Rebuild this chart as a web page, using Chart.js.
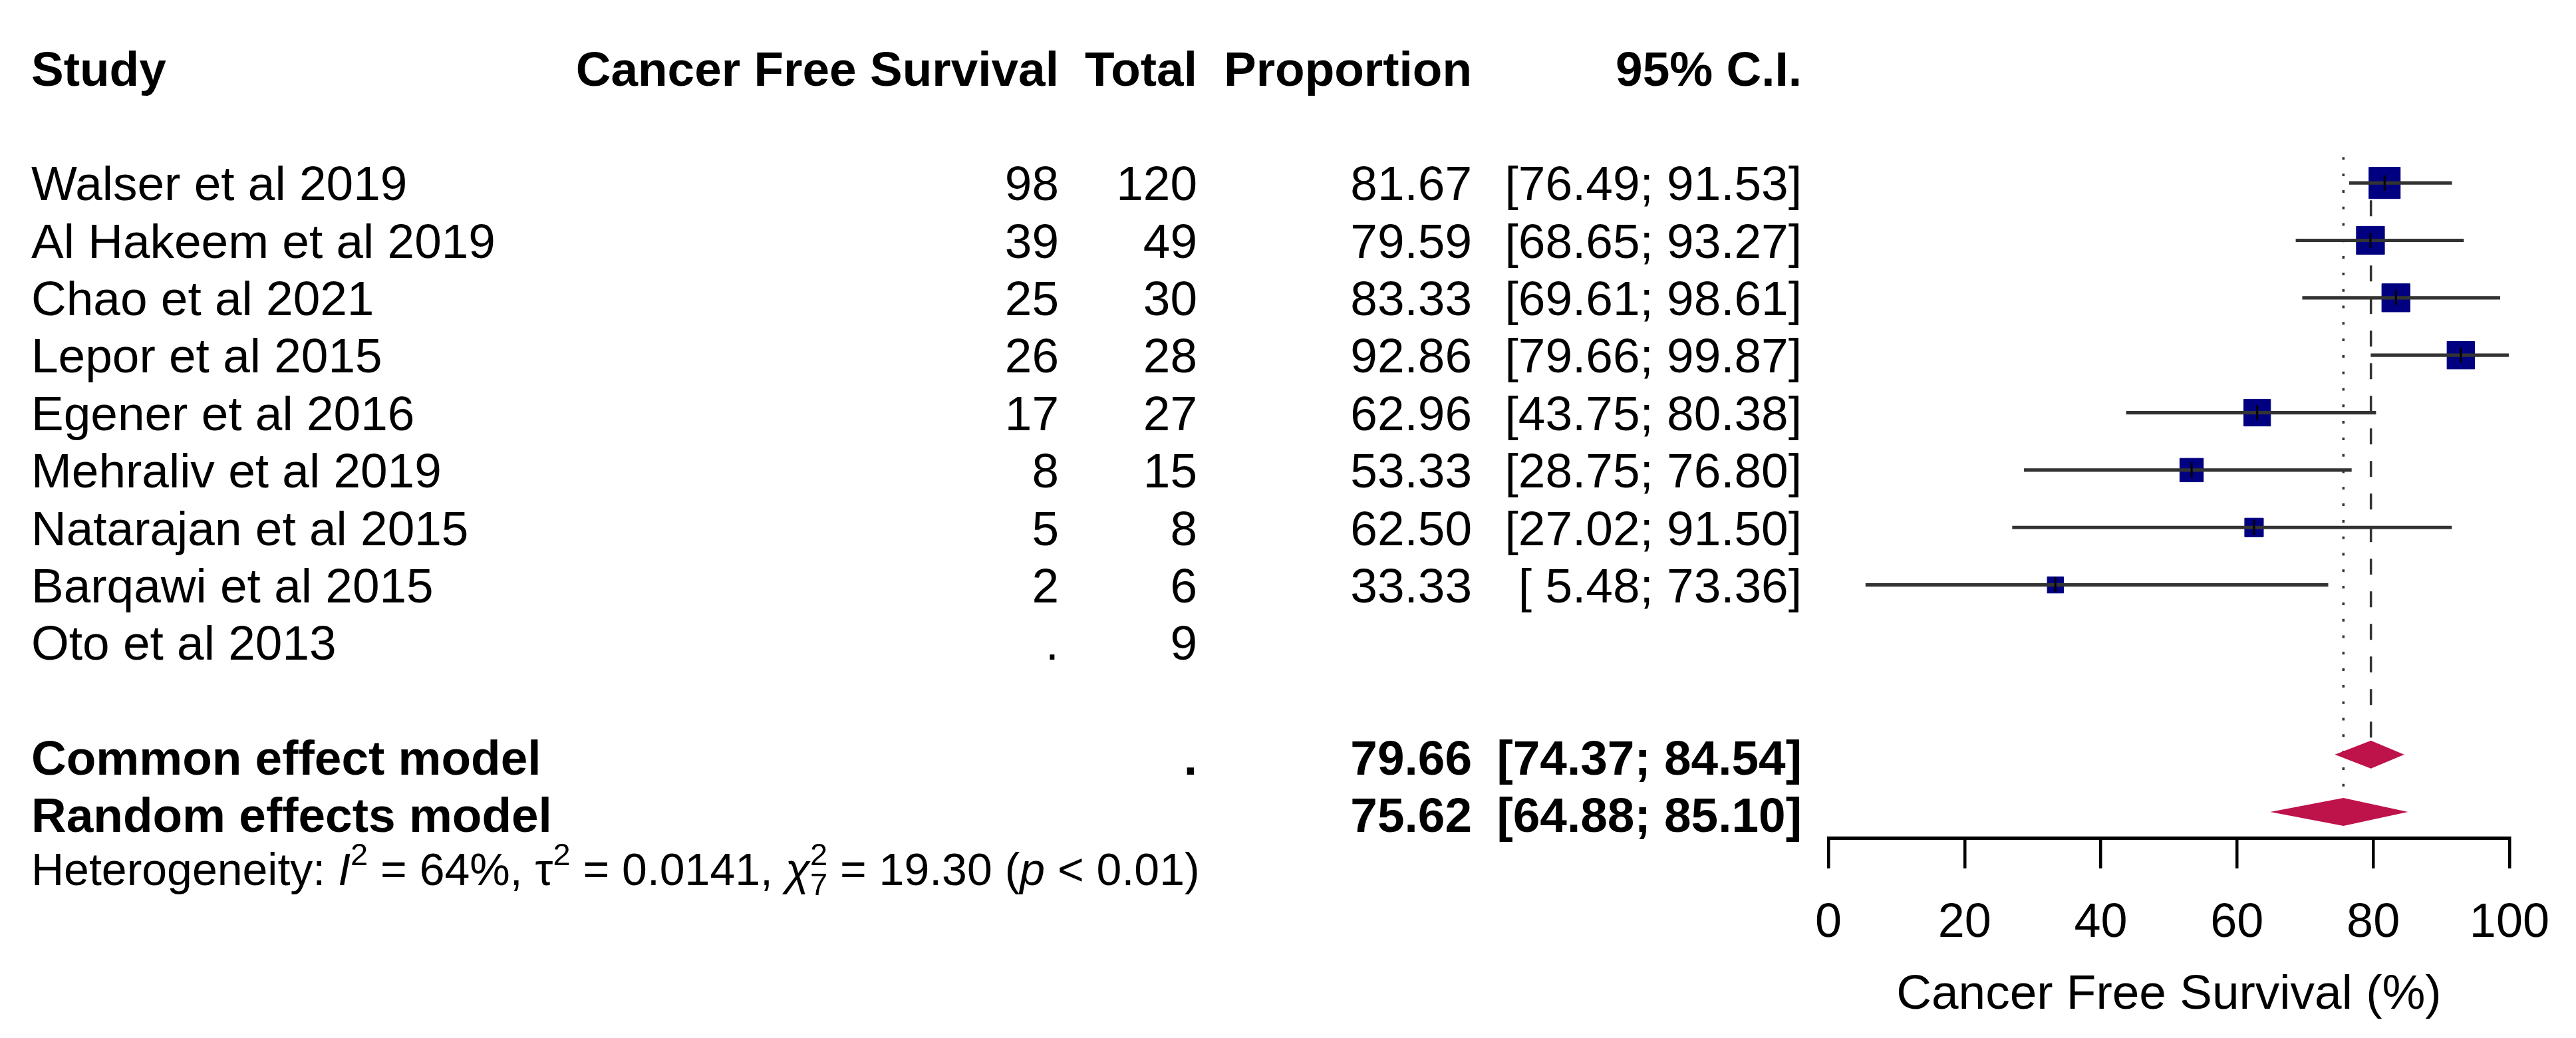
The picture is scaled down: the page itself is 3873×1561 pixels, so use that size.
<!DOCTYPE html>
<html>
<head>
<meta charset="utf-8">
<script src="https://cdn.jsdelivr.net/npm/chart.js@4/dist/chart.umd.min.js"></script>
<style>
  html, body { margin: 0; padding: 0; background: #fff; }
  #wrap { width: 3873px; height: 1561px; position: relative; }
</style>
</head>
<body>
<div id="wrap"><canvas id="forest"></canvas></div>
<script>
// study data
const studies = ['Walser et al 2019', 'Al Hakeem et al 2019', 'Chao et al 2021', 'Lepor et al 2015',
    'Egener et al 2016', 'Mehraliv et al 2019', 'Natarajan et al 2015', 'Barqawi et al 2015', 'Oto et al 2013'];
const events = [98, 39, 25, 26, 17, 8, 5, 2, null];
const totals = [120, 49, 30, 28, 27, 15, 8, 6, 9];
const proportions = [81.67, 79.59, 83.33, 92.86, 62.96, 53.33, 62.50, 33.33, null];
const ciLower = [76.49, 68.65, 69.61, 79.66, 43.75, 28.75, 27.02, 5.48, null];
const ciUpper = [91.53, 93.27, 98.61, 99.87, 80.38, 76.80, 91.50, 73.36, null];
const weights = [14.9, 12.0, 12.0, 11.5, 10.9, 8.4, 5.3, 4.0, 0];

// pooled estimates
const pooledLabels = ['Common effect model', 'Random effects model'];
const pooledEst = [79.66, 75.62];
const pooledLower = [74.37, 64.88];
const pooledUpper = [84.54, 85.10];

// heterogeneity
const hetI2 = 64;
const hetTau2 = '0.0141';
const hetQ = '19.30';
const hetDf = 7;
const hetP = '< 0.01';

// axis
const xTicks = [0, 20, 40, 60, 80, 100];
const xTitle = 'Cancer Free Survival (%)';
const headers = ['Study', 'Cancer Free Survival', 'Total', 'Proportion', '95% C.I.'];

// row layout (row 0 = header)
const studyRows = [2, 3, 4, 5, 6, 7, 8, 9, 10];
const pooledRows = [12, 13];
const hetRow = 13.95;

const FONT = '"Liberation Sans", Arial, Helvetica, sans-serif';
Chart.defaults.font.family = FONT;
Chart.defaults.color = '#000';

const colStudy = 47;
const colEvents = 1592;
const colTotal = 1800;
const colProp = 2213;
const colCI = 2709;
const textSize = 73;
const diamondHalf = 21;

function fmtCI(lo, hi) {
    const l = lo.toFixed(2);
    return '[' + (l.length < 5 ? ' ' + l : l) + '; ' + hi.toFixed(2) + ']';
}

// points for the study boxes, CI lines
const boxData = [], ciData = [], tickData = [], boxRadius = [];
studies.forEach((s, i) => {
    if (proportions[i] == null) return;
    boxData.push({ x: proportions[i], y: studyRows[i] });
    tickData.push({ x: proportions[i], y: studyRows[i] });
    ciData.push({ x: [ciLower[i], ciUpper[i]], y: studyRows[i] });
    boxRadius.push(12.2 * Math.sqrt(weights[i]) / Math.SQRT2);
});

function drawHeterogeneity(ctx, x, base) {
    const big = '68px ' + FONT;
    const ital = 'italic 68px ' + FONT;
    const sm = '47px ' + FONT;
    const put = (t, font, dy) => {
        ctx.font = font;
        ctx.fillText(t, x, base + (dy || 0));
        x += ctx.measureText(t).width;
    };
    put('Heterogeneity: ', big);
    put('I', ital);
    put('2', sm, -30);
    put(' = ' + hetI2 + '%, ', big);
    put('\u03c4', big);
    put('2', sm, -30);
    put(' = ' + hetTau2 + ', ', big);
    put('\u03c7', ital);
    ctx.font = sm;
    ctx.fillText('2', x, base - 30);
    ctx.fillText(String(hetDf), x, base + 15);
    x += ctx.measureText('2').width;
    put(' = ' + hetQ + ' (', big);
    put('p', ital);
    put(' ' + hetP + ')', big);
}

const forestPlugin = {
    id: 'forest',
    beforeDatasetsDraw(chart) {
        const { ctx, scales: { x, y } } = chart;
        ctx.save();
        ctx.strokeStyle = '#333';
        ctx.lineWidth = 3.5;
        // random effects: dotted, common effect: dashed
        const top = y.getPixelForValue(1.55);
        ctx.setLineDash([4, 20.8]);
        let px = x.getPixelForValue(pooledEst[1]);
        ctx.beginPath();
        ctx.moveTo(px, top);
        ctx.lineTo(px, y.getPixelForValue(pooledRows[1]) - 4 - diamondHalf);
        ctx.stroke();
        ctx.setLineDash([24, 25]);
        ctx.lineDashOffset = 33;
        px = x.getPixelForValue(pooledEst[0]);
        ctx.beginPath();
        ctx.moveTo(px, top);
        ctx.lineTo(px, y.getPixelForValue(pooledRows[0]) - 4 - diamondHalf);
        ctx.stroke();
        ctx.restore();
    },
    afterDatasetsDraw(chart) {
        const { ctx, scales: { x, y } } = chart;
        ctx.save();
        ctx.fillStyle = '#BE124B';
        pooledEst.forEach((est, i) => {
            const cy = y.getPixelForValue(pooledRows[i]) - 4;
            ctx.beginPath();
            ctx.moveTo(x.getPixelForValue(pooledLower[i]), cy);
            ctx.lineTo(x.getPixelForValue(est), cy - diamondHalf);
            ctx.lineTo(x.getPixelForValue(pooledUpper[i]), cy);
            ctx.lineTo(x.getPixelForValue(est), cy + diamondHalf);
            ctx.closePath();
            ctx.fill();
        });
        ctx.restore();
    },
    afterDraw(chart) {
        const { ctx, scales: { y } } = chart;
        const base = (row) => y.getPixelForValue(row) + 0.36 * textSize;
        ctx.save();
        ctx.fillStyle = '#000';
        ctx.textBaseline = 'alphabetic';
        const put = (t, xx, row, align, bold) => {
            ctx.font = (bold ? 'bold ' : '') + textSize + 'px ' + FONT;
            ctx.textAlign = align;
            ctx.fillText(t, xx, base(row));
        };
        // header
        put(headers[0], colStudy, 0, 'left', true);
        put(headers[1], colEvents, 0, 'right', true);
        put(headers[2], colTotal, 0, 'right', true);
        put(headers[3], colProp, 0, 'right', true);
        put(headers[4], colCI, 0, 'right', true);
        // studies
        studies.forEach((s, i) => {
            const r = studyRows[i];
            put(s, colStudy, r, 'left', false);
            put(events[i] == null ? '.' : String(events[i]), colEvents, r, 'right', false);
            put(String(totals[i]), colTotal, r, 'right', false);
            if (proportions[i] != null) {
                put(proportions[i].toFixed(2), colProp, r, 'right', false);
                put(fmtCI(ciLower[i], ciUpper[i]), colCI, r, 'right', false);
            }
        });
        // pooled
        pooledLabels.forEach((lab, i) => {
            const r = pooledRows[i];
            put(lab, colStudy, r, 'left', true);
            if (i === 0) put('.', colTotal, r, 'right', true);
            put(pooledEst[i].toFixed(2), colProp, r, 'right', true);
            put(fmtCI(pooledLower[i], pooledUpper[i]), colCI, r, 'right', true);
        });
        ctx.textAlign = 'left';
        drawHeterogeneity(ctx, colStudy, y.getPixelForValue(hetRow) + 24);
        ctx.restore();
    }
};

const ctx = document.getElementById('forest').getContext('2d');
new Chart(ctx, {
    type: 'scatter',
    data: {
        datasets: [
            {
                type: 'scatter',
                label: 'box',
                data: boxData,
                pointStyle: 'rect',
                pointRadius: boxRadius,
                backgroundColor: '#000080',
                borderColor: '#000080',
                borderWidth: 1,
                order: 3
            },
            {
                type: 'bar',
                label: 'ci',
                indexAxis: 'y',
                data: ciData,
                backgroundColor: '#333',
                borderWidth: 0,
                barThickness: 4.5,
                order: 2
            },
            {
                type: 'scatter',
                label: 'tick',
                data: tickData,
                pointStyle: 'line',
                rotation: 90,
                pointRadius: 11.5,
                borderColor: '#000',
                borderWidth: 3,
                order: 1
            }
        ]
    },
    options: {
        responsive: true,
        maintainAspectRatio: false,
        animation: false,
        events: [],
        layout: { padding: { left: 2749, right: 87, top: 0, bottom: 0 } },
        plugins: { legend: { display: false }, tooltip: { enabled: false } },
        scales: {
            x: {
                type: 'linear',
                position: 'bottom',
                min: 0,
                max: 100,
                offset: false,
                beginAtZero: false,
                afterBuildTicks: (s) => { s.ticks = xTicks.map(v => ({ value: v })); },
                afterFit: (s) => { s.height = 301; },
                ticks: { font: { size: 72 }, color: '#000', padding: 40, maxRotation: 0, autoSkip: false },
                grid: { display: true, offset: false, drawOnChartArea: false, drawTicks: true, tickLength: 46, color: '#000', lineWidth: 4.5 },
                border: { display: true, color: '#000', width: 5 },
                title: { display: true, text: xTitle, font: { size: 73 }, color: '#000', padding: { top: 0, bottom: 20 } }
            },
            y: {
                type: 'linear',
                display: false,
                reverse: true,
                offset: false,
                grid: { offset: false },
                min: -0.789,
                max: 13.405
            }
        }
    },
    plugins: [forestPlugin]
});
</script>
</body>
</html>
